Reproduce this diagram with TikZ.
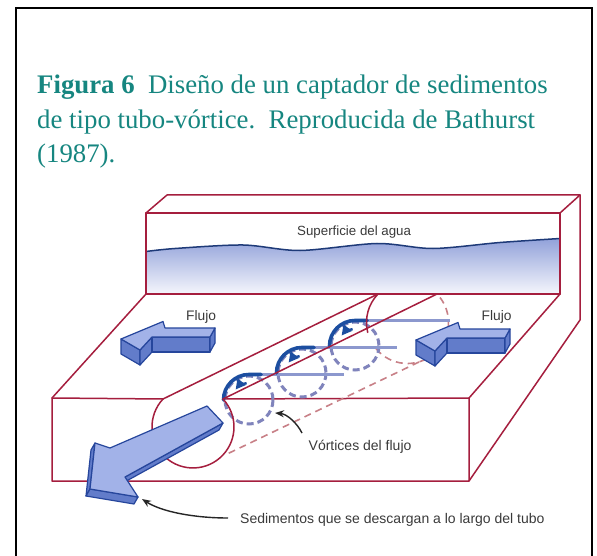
\documentclass[tikz,border=0pt]{standalone}
\usepackage{fontspec}
\setmainfont{Liberation Serif}
\newfontfamily\labelfont{Liberation Sans}
\usetikzlibrary{arrows.meta,calc}

\definecolor{titleteal}{RGB}{22,134,128}
\definecolor{edgered}{RGB}{165,30,62}
\definecolor{waterblue}{RGB}{146,162,218}
\definecolor{waterpale}{RGB}{245,246,252}
\definecolor{wavenavy}{RGB}{30,58,120}
\definecolor{vortexgray}{RGB}{128,132,188}
\definecolor{flowgray}{RGB}{140,152,206}
\definecolor{hookblue}{RGB}{28,78,160}
\definecolor{hiddenbrown}{RGB}{200,128,135}
\definecolor{arrowtop}{RGB}{162,178,232}
\definecolor{arrowside}{RGB}{98,124,202}
\definecolor{arrowedge}{RGB}{38,70,156}
\definecolor{labelgray}{RGB}{58,58,58}

\tikzset{
  title/.style={text=titleteal, font=\fontsize{26.8}{32}\selectfont, inner sep=0pt, anchor=base west},
  lbl/.style={text=labelgray, font=\labelfont\fontsize{14}{16}\selectfont, inner sep=0pt, anchor=base west},
  edge/.style={draw=edgered, line width=1.5pt, line join=round, line cap=round},
  hiddenedge/.style={draw=hiddenbrown, line width=1.6pt, dash pattern=on 7pt off 5pt},
  vortexring/.style={draw=vortexgray, line width=3pt, dash pattern=on 7pt off 4pt},
  flowtrace/.style={draw=flowgray, line width=3pt},
  hooktrace/.style={draw=hookblue, line width=3.6pt, line cap=round},
  blockside/.style={fill=arrowside, draw=arrowedge, line width=1.2pt, line join=round},
  blocktop/.style={fill=arrowtop, draw=arrowedge, line width=1.2pt, line join=round},
  note/.style={draw=black!85, line width=1.4pt, -{Stealth[length=9pt,width=7pt]}},
}

% 3-D block arrow pointing left; the tip of the top face is the local origin
\newcommand{\flujoblock}[1]{%
  \begin{scope}[shift={#1}]
    \path[blockside] (0,0) -- (19,11) -- (19,26) -- (0,15) -- cycle;
    \path[blockside] (19,11) -- (31,-2) -- (31,13) -- (19,26) -- cycle;
    \path[blockside] (31,-2) -- (89,-2) -- (89,13) -- (31,13) -- cycle;
    \path[blockside] (89,-2) -- (94,-11) -- (94,4) -- (89,13) -- cycle;
    \path[blocktop] (0,0) -- (42,-17.5) -- (44,-11) -- (94,-11) -- (89,-2)
                    -- (31,-2) -- (19,11) -- cycle;
  \end{scope}}

\begin{document}
\begin{tikzpicture}[x=1pt,y=-1pt]
\useasboundingbox (0,0) rectangle (597,556);
\fill[white] (0,0) rectangle (597,556);

% frame
\draw[line width=2pt] (16,562) -- (16,8) -- (592,8) -- (592,562);

% caption
\node[title] (cap1) at (37,94) {\textbf{Figura 6}\hspace{0.5em}Diseño de un captador de sedimentos};
\node[title] (cap2) at (37,128.5) {de tipo tubo-vórtice.\hspace{0.5em}Reproducida de Bathurst};
\node[title] (cap3) at (37,163) {(1987).};

% water body
\shade[top color=waterblue, bottom color=waterpale]
  plot[smooth] coordinates {(146,251.5) (175,248.5) (243,245) (300,250.5) (377,243.5) (433,248.5) (500,242.5) (560,238.5)}
  -- (560,294) -- (146,294) -- cycle;
\draw[wavenavy, line width=1.5pt]
  plot[smooth] coordinates {(146,251.5) (175,248.5) (243,245) (300,250.5) (377,243.5) (433,248.5) (500,242.5) (560,238.5)};
\node[lbl, font=\labelfont\fontsize{13.3}{15}\selectfont] (surf) at (297,236) {Superficie del agua};

% channel box
\draw[edge] (146,213) rectangle (560,294);
\draw[edge] (146,213) -- (167,195) -- (580,195) -- (560,213);
\draw[edge] (580,195) -- (580,320) -- (469,481);
\draw[edge] (146,294) -- (52,398) -- (52,481) -- (469,481) -- (469,398) -- (560,294);
\draw[edge] (52,398) -- (163,399);
\draw[edge] (223,399) -- (469,398);
\draw[edge] (146,294) -- (378,294);
\draw[edge] (437,294) -- (560,294);

% hidden contour of the tube
\draw[hiddenedge] ($(407.5,322.5)+(140:41)$) arc[start angle=140, end angle=-44, radius=41];
\draw[hiddenedge] (419,362) -- (225,455);

% vortices along the tube
\foreach \cx/\cy/\n in {249/400/1, 302/373/2, 355/346/3} {
  \coordinate (vc\n) at (\cx,\cy);
  \draw[vortexring] (vc\n) circle[radius=24];
}
\foreach \cx/\cy/\n in {249/400/1, 302/373/2, 355/346/3} {
  \draw[flowtrace] (\cx,\cy-25.5) -- (\cx+95,\cy-25.5);
}
\foreach \cx/\cy/\n in {249/400/1, 302/373/2, 355/346/3} {
  \draw[hooktrace] (\cx+12,\cy-25.5) -- (\cx,\cy-25.5) arc[start angle=270, end angle=180, radius=25.5];
  \draw[hookblue, line width=2.4pt, -{Triangle[length=10pt,width=10pt]}]
    ($(vc\n)+(262:17)$) arc[start angle=262, end angle=218, radius=17];
}

% tube: slot edges and mouths
\draw[edge] (163,399) -- (378,294);
\draw[edge] (223,399) -- (437,294);
\draw[edge] (163,399) arc[start angle=223, end angle=-43, radius=41];
\draw[edge] (378,294) arc[start angle=224, end angle=166, radius=41];

% flow arrows on the bed
\flujoblock{(121,339)}
\flujoblock{(416,340)}
\node[lbl, font=\labelfont\fontsize{13.8}{15}\selectfont] (flowL) at (186,320) {Flujo};
\node[lbl, font=\labelfont\fontsize{13.8}{15}\selectfont] (flowR) at (481.5,320) {Flujo};

% sediment discharge arrow
\path[blockside] (95,443) -- (90,489) -- (86,496) -- (91,450) -- cycle;
\path[blockside] (90,489) -- (138,497) -- (134,504) -- (86,496) -- cycle;
\path[blockside] (223,423) -- (125,477) -- (121,484) -- (219,430) -- cycle;
\path[blocktop] (207,406) -- (223,423) -- (125,477) -- (138,497) -- (90,489)
                -- (95,443) -- (110,448) -- cycle;

% labels with pointers
\node[lbl] (vortlbl) at (308.5,450) {Vórtices del flujo};
\node[lbl] (sedlbl) at (240,523) {Sedimentos que se descargan a lo largo del tubo};
\coordinate (vorttail) at (302,433);
\coordinate (vorttip) at (275,413);
\coordinate (sedtail) at (228,518);
\coordinate (sedtip) at (142,499);
\draw[note] (vorttail) .. controls (297,423) and (287,414) .. (vorttip);
\draw[note] (sedtail) .. controls (195,518) and (162,512) .. (sedtip);
\end{tikzpicture}
\end{document}
